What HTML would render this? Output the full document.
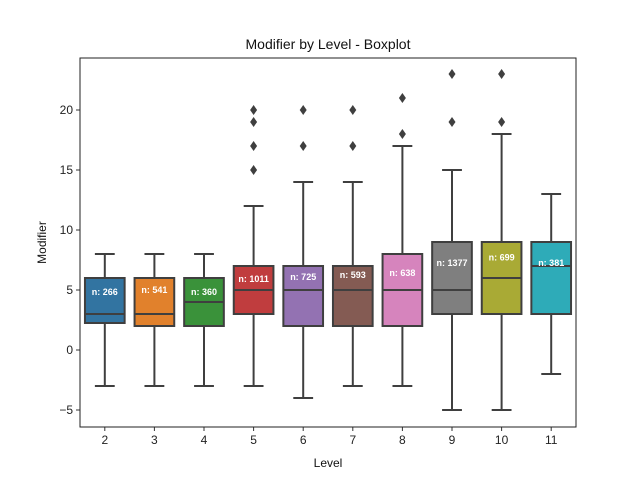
<!DOCTYPE html>
<html><head><meta charset="utf-8"><style>body{margin:0;background:#fff}svg{display:block;font-family:"Liberation Sans",Arial,sans-serif}</style></head>
<body>
<svg id="chart" width="640" height="480" xmlns="http://www.w3.org/2000/svg"></svg>
<script>
const categories = ["2","3","4","5","6","7","8","9","10","11"];
const whiskerLow = [-3,-3,-3,-3,-4,-3,-3,-5,-5,-2];
const q1 = [2.25,2,2,3,2,2,2,3,3,3];
const medians = [3,3,4,5,5,5,5,5,6,7];
const q3 = [6,6,6,7,7,7,8,9,9,9];
const whiskerHigh = [8,8,8,12,14,14,17,15,18,13];
const outliers = [[],[],[],[15,17,19,20],[17,20],[17,20],[18,21],[19,23],[19,23],[]];
const counts = [266,541,360,1011,725,593,638,1377,699,381];
const labelValues = [4.83,5,4.83,5.9,6.1,6.25,6.4,7.25,7.7,7.25];
const yTicks = [-5,0,5,10,15,20];
const colors = ["#3274a1","#e1812c","#3a923a","#c03d3e","#9372b2","#845b53","#d684bd","#7f7f7f","#a9aa35","#2eabb8"];

const L=80,R=576,T=58,B=427;
const NS="http://www.w3.org/2000/svg";
const svg=document.getElementById('chart');
const bw=(R-L)/categories.length;
const x=i=>L+bw*(i+0.5);
const y=v=>350-12*v;
function el(tag,attrs,parent){const e=document.createElementNS(NS,tag);for(const k in attrs)e.setAttribute(k,attrs[k]);(parent||svg).appendChild(e);return e;}
const dark="#3f3f3f";
categories.forEach((c,i)=>{
  const g=el('g',{});
  
  
  const cx=x(i),hw=bw*0.4;
  el('line',{x1:cx,x2:cx,y1:y(whiskerLow[i]),y2:y(q1[i]),stroke:dark,'stroke-width':2},g);
  el('line',{x1:cx,x2:cx,y1:y(q3[i]),y2:y(whiskerHigh[i]),stroke:dark,'stroke-width':2},g);
  el('line',{x1:cx-hw/2,x2:cx+hw/2,y1:y(whiskerLow[i]),y2:y(whiskerLow[i]),stroke:dark,'stroke-width':2},g);
  el('line',{x1:cx-hw/2,x2:cx+hw/2,y1:y(whiskerHigh[i]),y2:y(whiskerHigh[i]),stroke:dark,'stroke-width':2},g);
  el('rect',{x:cx-hw,y:y(q3[i]),width:hw*2,height:y(q1[i])-y(q3[i]),fill:colors[i],stroke:dark,'stroke-width':2},g);
  el('line',{x1:cx-hw,x2:cx+hw,y1:y(medians[i]),y2:y(medians[i]),stroke:dark,'stroke-width':2},g);
  outliers[i].forEach(o=>{
    const p=el('path',{d:`M${cx},${y(o)-5} L${cx+3.5},${y(o)} L${cx},${y(o)+5} L${cx-3.5},${y(o)} Z`,fill:dark},g);
    
    
  });
  const t=el('text',{x:cx,y:y(labelValues[i])+3,'text-anchor':'middle','font-size':9,'font-weight':'bold',fill:'#fff'},g);
  t.textContent='n: '+counts[i];
  
  
  el('line',{x1:cx,x2:cx,y1:B,y2:B+4,stroke:'#333'});
  const xl=el('text',{x:cx,y:B+17,'text-anchor':'middle','font-size':12,fill:'#222'});
  xl.textContent=c;
  
  
});
yTicks.forEach(v=>{
  el('line',{x1:L-4,x2:L,y1:y(v),y2:y(v),stroke:'#333'});
  const t=el('text',{x:L-7,y:y(v)+4,'text-anchor':'end','font-size':12,fill:'#222'});
  t.textContent=v<0?'\u2212'+(-v):v;
  
  
});
const fr=el('rect',{x:L,y:T,width:R-L,height:B-T,fill:'none',stroke:'#222','stroke-width':1});


const ti=el('text',{x:(L+R)/2,y:T-9,'text-anchor':'middle','font-size':14,fill:'#111'});
ti.textContent='Modifier by Level - Boxplot';


const xt=el('text',{x:(L+R)/2,y:467,'text-anchor':'middle','font-size':12,fill:'#111'});
xt.textContent='Level';


const yt=el('text',{x:46,y:(T+B)/2,'text-anchor':'middle','font-size':12,fill:'#111',transform:`rotate(-90 46 ${(T+B)/2})`});
yt.textContent='Modifier';


</script>
</body></html>
